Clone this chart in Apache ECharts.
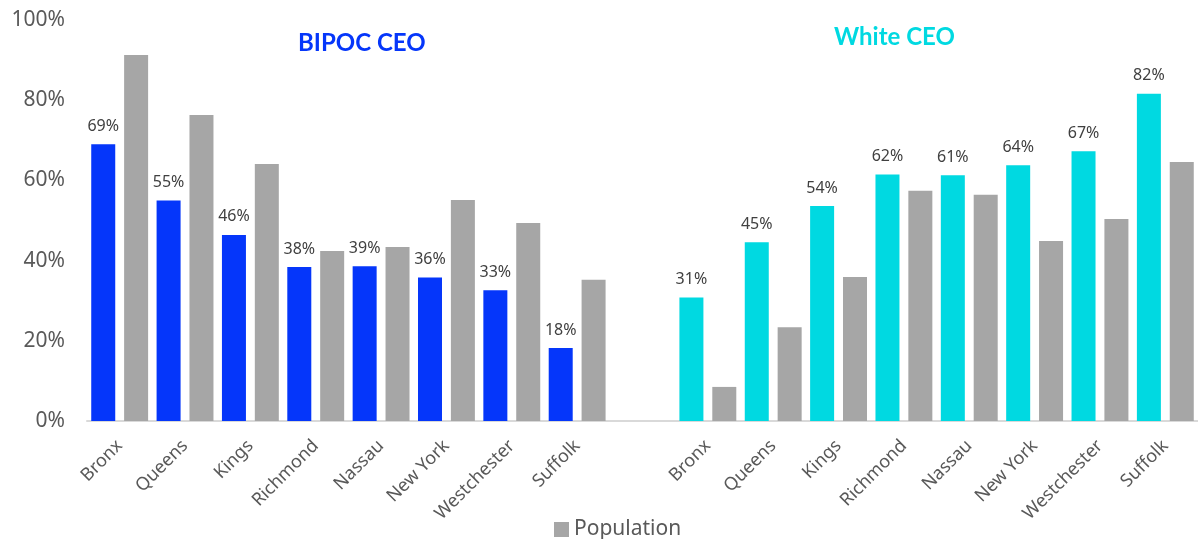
<!DOCTYPE html>
<html>
<head>
<meta charset="utf-8">
<script src="https://cdn.jsdelivr.net/npm/echarts@6/dist/echarts.min.js"></script>
<style>
  html, body { margin: 0; padding: 0; background: #fff; }
  #chart { width: 1198px; height: 539px; }
</style>
</head>
<body>
<div id="chart"></div>
<script>
// counties, same order in both groups
const counties = ['Bronx', 'Queens', 'Kings', 'Richmond', 'Nassau', 'New York', 'Westchester', 'Suffolk'];
const bipocCeo = [69, 55, 46.4, 38.4, 38.6, 35.8, 32.6, 18.2];
const bipocPop = [91.3, 76.3, 64.1, 42.4, 43.4, 55.1, 49.4, 35.2];
const whiteCeo = [30.8, 44.6, 53.6, 61.5, 61.3, 63.8, 67.3, 81.6];
const whitePop = [8.5, 23.4, 35.9, 57.4, 56.4, 44.9, 50.4, 64.6];
const yTicks = [0, 20, 40, 60, 80, 100];

const BLUE = '#0536FA';
const CYAN = '#00D9E1';
const GRAY = '#A6A6A6';
const FONT = 'Noto Sans';

// one empty category between the two groups
const cats = counties.concat([''], counties);
const ceoData = bipocCeo.map(v => ({ value: v, itemStyle: { color: BLUE } }))
  .concat(['-'])
  .concat(whiteCeo.map(v => ({ value: v, itemStyle: { color: CYAN } })));
const popData = bipocPop.concat(['-'], whitePop);

const chart = echarts.init(document.getElementById('chart'));
chart.setOption({
  animation: false,
  textStyle: { fontFamily: FONT },
  grid: { left: 87, right: -9, top: 20, bottom: 118, containLabel: false },
  legend: {
    data: ['Population'],
    left: 549,
    top: 514,
    icon: 'rect',
    itemWidth: 15,
    itemHeight: 15,
    itemGap: 6,
    textStyle: { fontSize: 21, color: '#595959', fontFamily: FONT }
  },
  graphic: [
    {
      type: 'text', left: 298, top: 31,
      style: { text: 'BIPOC CEO', fill: BLUE, font: 'bold 24px Lato' }
    },
    {
      type: 'text', left: 834, top: 25,
      style: { text: 'White CEO', fill: CYAN, font: 'bold 24px Lato' }
    }
  ],
  xAxis: {
    type: 'category',
    data: cats,
    axisTick: { show: false },
    axisLine: { lineStyle: { color: '#D9D9D9', width: 2 } },
    axisLabel: {
      interval: 0,
      rotate: 45,
      margin: 22,
      fontSize: 18,
      color: '#595959',
      fontFamily: FONT
    }
  },
  yAxis: {
    type: 'value',
    min: 0,
    max: 100,
    interval: 20,
    splitLine: { show: false },
    axisLine: { show: false },
    axisTick: { show: false },
    axisLabel: {
      margin: 22,
      fontSize: 21,
      color: '#595959',
      fontFamily: FONT,
      formatter: v => yTicks.includes(v) ? v + '%' : ''
    }
  },
  series: [
    {
      name: 'CEO',
      type: 'bar',
      data: ceoData,
      barWidth: 24,
      barGap: '37%',
      label: {
        show: true,
        position: 'top',
        distance: 10,
        fontSize: 16,
        color: '#404040',
        fontFamily: FONT,
        formatter: p => Math.round(p.value) + '%'
      }
    },
    {
      name: 'Population',
      type: 'bar',
      data: popData,
      barWidth: 24,
      itemStyle: { color: GRAY }
    }
  ]
});
</script>
</body>
</html>
